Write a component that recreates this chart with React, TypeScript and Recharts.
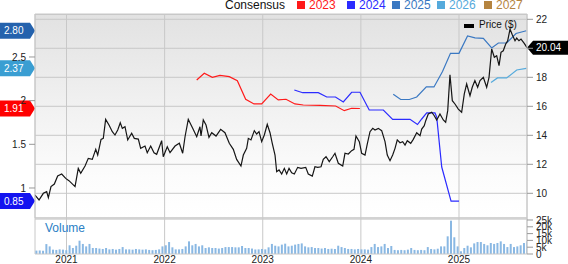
import React from 'react';
import { LineChart, Line, XAxis, YAxis, CartesianGrid, ReferenceLine, BarChart, Bar } from 'recharts';

const FONT = '"Liberation Sans", Arial, Helvetica, sans-serif';

const X_DOMAIN: [number, number] = [2020.679, 2025.693];
const YEAR_TICKS = [2021, 2022, 2023, 2024, 2025];
const PRICE_TICKS = [10, 12, 14, 16, 18, 20, 22];
const PRICE_DOMAIN: [number, number] = [8.297, 22.366];
const EPS_TICKS = [1, 1.5, 2, 2.5];
const EPS_DOMAIN: [number, number] = [0.6565, 2.992];
const VOL_TICKS = [0, 5, 10, 15, 20, 25];
const VOL_DOMAIN: [number, number] = [0, 26.47];

const LEGEND_YEARS = ['2023', '2024', '2025', '2026', '2027'];

const priceDates = [
  2020.679, 2020.720, 2020.764, 2020.798, 2020.815, 2020.842, 2020.876, 2020.910, 2020.951, 2020.992,
  2021.025, 2021.087, 2021.120, 2021.145, 2021.189, 2021.222, 2021.263, 2021.298, 2021.318, 2021.352,
  2021.375, 2021.399, 2021.433, 2021.467, 2021.494, 2021.522, 2021.548, 2021.569, 2021.596, 2021.624,
  2021.664, 2021.691, 2021.732, 2021.756, 2021.800, 2021.823, 2021.858, 2021.892, 2021.919, 2021.970,
  2021.986, 2022.027, 2022.055, 2022.106, 2022.150, 2022.184, 2022.208, 2022.241, 2022.286, 2022.327,
  2022.360, 2022.371, 2022.394, 2022.422, 2022.452, 2022.480, 2022.524, 2022.571, 2022.615, 2022.659,
  2022.700, 2022.734, 2022.778, 2022.802, 2022.836, 2022.853, 2022.880, 2022.914, 2022.938, 2022.962, 2022.989,
  2023.016, 2023.046, 2023.074, 2023.097, 2023.125, 2023.142, 2023.166, 2023.193, 2023.220, 2023.244, 2023.268,
  2023.295, 2023.322, 2023.356, 2023.390, 2023.438, 2023.464, 2023.505, 2023.532, 2023.560, 2023.594, 2023.617,
  2023.645, 2023.678, 2023.713, 2023.736, 2023.770, 2023.815, 2023.838, 2023.872, 2023.906, 2023.930, 2023.950, 2023.984,
  2024.008, 2024.042, 2024.065, 2024.093, 2024.121, 2024.144, 2024.178, 2024.212, 2024.246, 2024.269, 2024.297,
  2024.324, 2024.348, 2024.371, 2024.399, 2024.426, 2024.450, 2024.473, 2024.508, 2024.534, 2024.569,
  2024.603, 2024.620, 2024.646, 2024.661, 2024.687, 2024.722, 2024.748, 2024.773, 2024.806, 2024.840, 2024.864,
  2024.885, 2024.908, 2024.932, 2024.959, 2024.993,
  2025.027, 2025.054, 2025.078, 2025.112, 2025.135, 2025.162, 2025.190, 2025.214, 2025.248, 2025.282, 2025.306,
  2025.333, 2025.360, 2025.384, 2025.408, 2025.428, 2025.451, 2025.476, 2025.496, 2025.520, 2025.543, 2025.571,
  2025.588, 2025.611, 2025.632, 2025.665, 2025.693,
];
const priceValues = [
  9.88, 9.54, 10.0, 10.11, 9.7, 10.46, 10.64, 11.19, 11.33, 11.03,
  10.87, 10.46, 11.72, 11.38, 11.88, 12.41, 12.34, 13.03, 12.64, 13.72,
  13.79, 15.1, 14.71, 14.25, 14.02, 14.37, 14.87, 14.48, 14.59, 13.68,
  14.14, 13.79, 13.74, 13.1, 13.26, 12.8, 13.26, 12.8, 12.69, 13.63,
  12.52, 13.21, 12.8, 13.26, 13.45, 12.76, 13.9, 15.1, 14.48, 13.9,
  14.59, 13.95, 15.06, 14.71, 13.86, 14.18, 13.95, 14.41, 14.18, 13.45,
  13.03, 12.34, 11.88, 12.64, 13.1, 13.79, 13.68, 14.32, 14.09, 14.25, 13.56,
  14.02, 14.76, 14.18, 13.45, 12.64, 11.49, 11.61, 11.33, 11.72, 11.33, 11.72,
  11.42, 11.33, 11.79, 11.72, 11.79, 11.33, 11.19, 11.83, 11.79, 11.83, 12.34,
  12.52, 12.18, 12.52, 12.76, 12.07, 11.88, 12.76, 12.71, 12.94, 13.03, 13.95, 13.56,
  12.76, 12.64, 13.4, 14.25, 14.48, 14.37, 14.48, 14.32, 13.56, 12.64, 12.25,
  12.64, 13.1, 13.68, 13.49, 13.56, 13.33, 13.63, 13.45, 13.72, 14.18,
  13.97, 14.43, 14.66, 15.01, 15.47, 15.59, 15.35, 15.06, 15.47, 15.06, 14.9,
  15.7, 18.18, 16.39, 16.16, 15.81,
  15.59, 16.85, 17.54, 16.73, 17.31, 17.77, 17.31, 17.77, 18.0, 17.31, 18.0,
  19.95, 19.38, 19.49, 18.8, 19.72, 19.83, 20.3, 20.52, 21.33, 20.94, 20.52,
  20.71, 20.52, 20.64, 20.34, 20.04,
];

const eps2023Dates = [2022.327, 2022.404, 2022.486, 2022.564, 2022.659, 2022.741, 2022.826, 2022.911, 2022.989, 2023.081, 2023.158, 2023.237, 2023.328, 2023.413, 2023.583, 2023.743, 2023.831, 2023.906, 2023.99];
const eps2023Values = [2.237, 2.313, 2.268, 2.29, 2.275, 2.229, 2.016, 1.962, 1.962, 2.076, 2.008, 2.016, 1.962, 1.95, 1.947, 1.939, 1.885, 1.913, 1.91];

const eps2024Dates = [2023.322, 2023.407, 2023.566, 2023.652, 2023.741, 2023.821, 2023.906, 2023.991, 2024.085, 2024.229, 2024.324, 2024.501, 2024.577, 2024.62, 2024.671, 2024.755, 2024.773, 2024.824, 2024.919, 2025.0];
const eps2024Values = [2.122, 2.091, 2.091, 2.042, 2.042, 1.985, 2.096, 2.096, 1.893, 1.893, 1.786, 1.786, 1.727, 1.79, 1.859, 1.859, 1.81, 1.24, 0.85, 0.85];

const eps2025Dates = [2024.33, 2024.406, 2024.494, 2024.569, 2024.667, 2024.745, 2024.832, 2024.913, 2025.0, 2025.087, 2025.163, 2025.248, 2025.333, 2025.401, 2025.486, 2025.581, 2025.686];
const eps2025Values = [2.073, 2.013, 2.013, 2.042, 2.157, 2.157, 2.334, 2.542, 2.542, 2.741, 2.718, 2.712, 2.603, 2.66, 2.66, 2.769, 2.8];

const eps2026Dates = [2025.326, 2025.392, 2025.486, 2025.588, 2025.686];
const eps2026Values = [2.208, 2.26, 2.26, 2.351, 2.37];

const volValues = [
  2.5, 2.6, 2.4, 7.3, 5.6, 3.2, 3.0, 3.4, 3.2, 2.8,
  6.4, 4.4, 6.1, 9.8, 7.4, 5.6, 7.4, 4.4, 4.4, 4.0,
  3.7, 4.4, 3.4, 3.7, 3.2, 3.7, 5.1, 3.4, 3.4, 3.2,
  3.7, 3.4, 3.2, 3.4, 3.0, 2.8, 3.0, 3.4, 5.6, 6.4,
  8.8, 4.9, 3.4, 3.4, 3.7, 5.6, 9.3, 6.4, 7.4, 5.6,
  6.4, 4.4, 4.9, 4.4, 4.4, 4.0, 4.4, 5.1, 5.1, 5.1,
  4.9, 4.9, 5.9, 4.4, 4.4, 4.0, 3.4, 3.4, 3.7, 3.4,
  4.9, 7.4, 6.1, 5.6, 6.9, 7.6, 5.6, 6.1, 6.9, 7.4,
  7.8, 5.6, 4.9, 5.1, 4.4, 4.4, 4.0, 4.4, 3.7, 3.9,
  3.7, 6.1, 5.1, 4.4, 3.7, 3.7, 3.4, 3.7, 3.4, 3.4,
  3.2, 5.1, 7.4, 5.1, 5.6, 7.4, 4.4, 5.9, 3.0, 2.8,
  3.0, 2.8, 3.2, 4.4, 3.0, 2.8, 3.0, 2.8, 5.1, 3.7,
  3.4, 3.9, 5.6, 5.6, 13.0, 24.5, 12.3, 5.6, 2.0, 4.4,
  6.1, 4.9, 7.8, 8.8, 8.8, 7.4, 6.4, 8.1, 7.4, 8.1,
  9.3, 7.4, 5.1, 7.4, 5.1, 5.6, 6.4, 8.1, 9.3,
];
const VOL_START = 2020.69;
const VOL_STEP = 0.0338;

const COLORS = {
  price: '#151515',
  '2023': '#ff1a1a',
  '2024': '#2b2bff',
  '2025': '#3a78c2',
  '2026': '#55aadc',
  '2027': '#b5843f',
};
const TAG_COLORS = {
  '2023': '#ff0000',
  '2024': '#1414f0',
  '2025': '#2462ad',
  '2026': '#3a9ed2',
};

const zip = (ts: number[], vs: number[]) => ts.map((t, i) => ({ t, v: vs[i] }));
const priceData = zip(priceDates, priceValues);
const eps2023 = zip(eps2023Dates, eps2023Values);
const eps2024 = zip(eps2024Dates, eps2024Values);
const eps2025 = zip(eps2025Dates, eps2025Values);
const eps2026 = zip(eps2026Dates, eps2026Values);
const volData = volValues.map((v, i) => ({ t: VOL_START + i * VOL_STEP, v }));

type VB = { x: number; y: number; width: number; height: number };

const LeftTag = (props: { viewBox?: VB; text: string; color: string }) => {
  const { viewBox, text, color } = props;
  if (!viewBox) return null;
  const tip = viewBox.x;
  const cy = viewBox.y;
  const left = tip - 35;
  return (
    <g>
      <polygon
        points={`${left},${cy - 8} ${tip - 5},${cy - 8} ${tip},${cy} ${tip - 5},${cy + 8} ${left},${cy + 8}`}
        fill={color}
      />
      <text x={left + 4} y={cy} dy="0.36em" fill="#fff" fontSize={10} fontFamily={FONT}>
        {text}
      </text>
    </g>
  );
};

const RightTag = (props: { viewBox?: VB; text: string; color: string }) => {
  const { viewBox, text, color } = props;
  if (!viewBox) return null;
  const tip = viewBox.x + viewBox.width;
  const cy = viewBox.y;
  return (
    <g>
      <polygon
        points={`${tip},${cy} ${tip + 6},${cy - 7} ${tip + 41},${cy - 7} ${tip + 41},${cy + 7} ${tip + 6},${cy + 7}`}
        fill={color}
      />
      <text x={tip + 9} y={cy} dy="0.36em" fill="#fff" fontSize={10} fontFamily={FONT}>
        {text}
      </text>
    </g>
  );
};

const tickStyle = { fontSize: 10, fill: '#222', fontFamily: FONT };
const last = (a: number[]) => a[a.length - 1];
const lastPrice = last(priceValues);

const legendSquares = [297, 347, 392, 437, 484];

export default function App() {
  return (
    <div style={{ position: 'absolute', left: 0, top: 0, width: 568, height: 264, background: '#fff', overflow: 'hidden', fontFamily: FONT }}>
      <div
        style={{
          position: 'absolute', left: 35, top: 14, width: 492, height: 204,
          background: 'linear-gradient(to bottom, #e2e2e2 0%, #f1f1f1 45%, #fcfcfc 80%, #ffffff 100%)',
          borderTop: '1px solid #c8c8c8', boxSizing: 'border-box',
        }}
      />
      <div style={{ position: 'absolute', left: 35, top: 217, width: 492, height: 3, background: '#dddddd' }} />

      <div style={{ position: 'absolute', left: 0, top: 0 }}>
        <LineChart width={568} height={220} margin={{ top: 14, right: 0, bottom: 2, left: 0 }}>
          <CartesianGrid yAxisId="right" stroke="#c8c8c8" />
          <XAxis dataKey="t" type="number" domain={X_DOMAIN} ticks={YEAR_TICKS} allowDataOverflow hide />
          <YAxis
            yAxisId="left" orientation="left" width={35} domain={EPS_DOMAIN} ticks={EPS_TICKS} interval={0}
            allowDataOverflow tick={tickStyle} tickSize={6} tickMargin={3}
            tickLine={{ stroke: '#999' }} axisLine={{ stroke: '#c8c8c8' }}
            tickFormatter={(v: number) => String(v)}
          />
          <YAxis
            yAxisId="right" orientation="right" width={41} domain={PRICE_DOMAIN} ticks={PRICE_TICKS} interval={0}
            allowDataOverflow tick={tickStyle} tickSize={6} tickMargin={3}
            tickLine={{ stroke: '#999' }} axisLine={{ stroke: '#c8c8c8' }}
            tickFormatter={(v: number) => (Math.abs(v - lastPrice) < 0.6 ? '' : String(v))}
          />
          <Line yAxisId="left" data={eps2023} dataKey="v" stroke={COLORS['2023']} strokeWidth={1.2} dot={false} isAnimationActive={false} />
          <Line yAxisId="left" data={eps2024} dataKey="v" stroke={COLORS['2024']} strokeWidth={1.2} dot={false} isAnimationActive={false} />
          <Line yAxisId="left" data={eps2025} dataKey="v" stroke={COLORS['2025']} strokeWidth={1.2} dot={false} isAnimationActive={false} />
          <Line yAxisId="left" data={eps2026} dataKey="v" stroke={COLORS['2026']} strokeWidth={1.2} dot={false} isAnimationActive={false} />
          <Line yAxisId="right" data={priceData} dataKey="v" stroke={COLORS.price} strokeWidth={1.2} dot={false} isAnimationActive={false} />
          <ReferenceLine yAxisId="left" y={last(eps2025Values)} stroke="none" label={<LeftTag text={last(eps2025Values).toFixed(2)} color={TAG_COLORS['2025']} />} />
          <ReferenceLine yAxisId="left" y={last(eps2026Values)} stroke="none" label={<LeftTag text={last(eps2026Values).toFixed(2)} color={TAG_COLORS['2026']} />} />
          <ReferenceLine yAxisId="left" y={last(eps2023Values)} stroke="none" label={<LeftTag text={last(eps2023Values).toFixed(2)} color={TAG_COLORS['2023']} />} />
          <ReferenceLine yAxisId="left" y={last(eps2024Values)} stroke="none" label={<LeftTag text={last(eps2024Values).toFixed(2)} color={TAG_COLORS['2024']} />} />
          <ReferenceLine yAxisId="right" y={lastPrice} stroke="none" label={<RightTag text={lastPrice.toFixed(2)} color="#000" />} />
        </LineChart>
      </div>

      <div style={{ position: 'absolute', left: 0, top: 208 }}>
        <BarChart width={568} height={56} data={volData} margin={{ top: 10, right: 0, bottom: 0, left: 35 }}>
          <CartesianGrid horizontal={false} stroke="#c8c8c8" />
          <XAxis
            dataKey="t" type="number" domain={X_DOMAIN} ticks={YEAR_TICKS} interval={0} allowDataOverflow
            height={10} tickSize={0} tickMargin={2} tick={tickStyle} axisLine={{ stroke: '#c8c8c8' }}
            tickFormatter={(v: number) => String(v)}
          />
          <YAxis
            orientation="right" width={41} domain={VOL_DOMAIN} ticks={VOL_TICKS} interval={0} allowDataOverflow
            tick={tickStyle} tickSize={6} tickMargin={3} tickLine={{ stroke: '#999' }} axisLine={{ stroke: '#c8c8c8' }}
            tickFormatter={(v: number) => (v === 0 ? '0' : `${v}k`)}
          />
          <Bar dataKey="v" fill="#8ab8e3" barSize={2} isAnimationActive={false} />
        </BarChart>
      </div>

      <div style={{ position: 'absolute', left: 45, top: 221, fontSize: 12, color: '#2b80c5', lineHeight: '14px' }}>Volume</div>

      <div style={{ position: 'absolute', left: 225, top: 0, fontSize: 12, color: '#111', lineHeight: '10px' }}>Consensus</div>
      {LEGEND_YEARS.map((y, i) => (
        <React.Fragment key={y}>
          <div style={{ position: 'absolute', left: legendSquares[i], top: 1, width: 8, height: 8, background: (COLORS as any)[y] }} />
          <div style={{ position: 'absolute', left: legendSquares[i] + 12, top: 0, fontSize: 12, lineHeight: '10px', color: (COLORS as any)[y] }}>{y}</div>
        </React.Fragment>
      ))}

      <div style={{ position: 'absolute', left: 464, top: 24, width: 10, height: 4, background: '#000' }} />
      <div style={{ position: 'absolute', left: 479, top: 19, fontSize: 10, lineHeight: '12px', color: '#111' }}>Price ($)</div>
    </div>
  );
}
